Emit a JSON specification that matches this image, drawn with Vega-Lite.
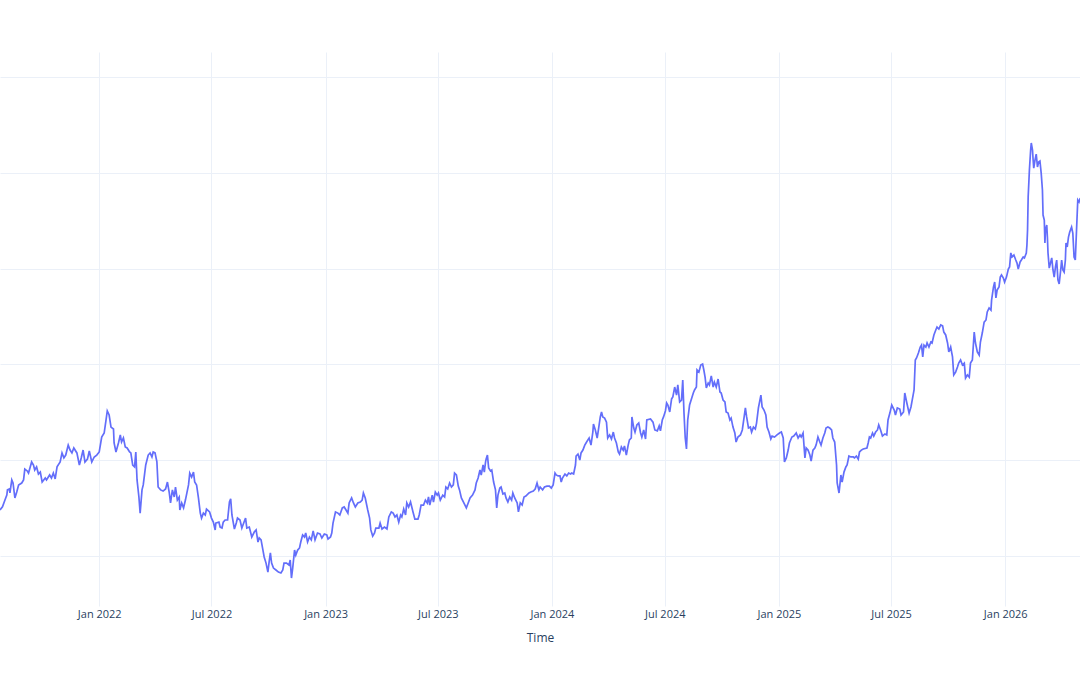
{
"$schema": "https://vega.github.io/schema/vega-lite/v6.json",
"width": 1080,
"height": 554,
"autosize": {"type": "none"},
"padding": {"left": 0, "top": 52, "right": 0, "bottom": 69},
"background": "white",
"config": {"view": {"stroke": null}, "font": "Open Sans"},
"data": {"values": [
{"date":"2021-07-25","value":124.0},{"date":"2021-07-29","value":125.7},{"date":"2021-08-02","value":129.2},{"date":"2021-08-05","value":131.8},{"date":"2021-08-06","value":134.5},{"date":"2021-08-09","value":135.0},{"date":"2021-08-10","value":132.9},{"date":"2021-08-13","value":139.7},{"date":"2021-08-15","value":138.1},{"date":"2021-08-18","value":130.3},{"date":"2021-08-21","value":133.4},{"date":"2021-08-24","value":137.1},{"date":"2021-08-29","value":138.1},{"date":"2021-09-01","value":139.7},{"date":"2021-09-03","value":145.4},{"date":"2021-09-07","value":144.4},{"date":"2021-09-09","value":143.3},{"date":"2021-09-14","value":149.1},{"date":"2021-09-17","value":147.5},{"date":"2021-09-19","value":144.9},{"date":"2021-09-22","value":146.5},{"date":"2021-09-25","value":142.8},{"date":"2021-09-28","value":143.8},{"date":"2021-10-01","value":138.6},{"date":"2021-10-06","value":140.7},{"date":"2021-10-08","value":139.7},{"date":"2021-10-13","value":142.3},{"date":"2021-10-16","value":140.7},{"date":"2021-10-19","value":143.3},{"date":"2021-10-22","value":140.2},{"date":"2021-10-25","value":146.5},{"date":"2021-10-30","value":149.1},{"date":"2021-11-02","value":153.8},{"date":"2021-11-05","value":151.2},{"date":"2021-11-08","value":152.7},{"date":"2021-11-12","value":157.9},{"date":"2021-11-15","value":155.3},{"date":"2021-11-18","value":153.8},{"date":"2021-11-21","value":156.4},{"date":"2021-11-26","value":153.8},{"date":"2021-11-30","value":147.5},{"date":"2021-12-03","value":151.2},{"date":"2021-12-06","value":155.3},{"date":"2021-12-09","value":149.1},{"date":"2021-12-13","value":150.6},{"date":"2021-12-16","value":154.8},{"date":"2021-12-20","value":149.1},{"date":"2021-12-24","value":151.7},{"date":"2021-12-28","value":152.7},
{"date":"2022-01-01","value":154.3},{"date":"2022-01-05","value":162.1},{"date":"2022-01-09","value":164.2},{"date":"2022-01-12","value":171.0},{"date":"2022-01-14","value":175.7},{"date":"2022-01-17","value":173.6},{"date":"2022-01-20","value":167.3},{"date":"2022-01-24","value":166.3},{"date":"2022-01-25","value":159.0},{"date":"2022-01-28","value":154.3},{"date":"2022-02-01","value":159.0},{"date":"2022-02-04","value":163.2},{"date":"2022-02-06","value":159.5},{"date":"2022-02-09","value":161.6},{"date":"2022-02-12","value":156.9},{"date":"2022-02-15","value":156.4},{"date":"2022-02-19","value":154.3},{"date":"2022-02-21","value":153.8},{"date":"2022-02-24","value":147.5},{"date":"2022-02-27","value":146.5},{"date":"2022-03-01","value":154.3},{"date":"2022-03-03","value":139.7},{"date":"2022-03-06","value":130.8},{"date":"2022-03-08","value":122.4},{"date":"2022-03-11","value":134.5},{"date":"2022-03-13","value":137.1},{"date":"2022-03-17","value":147.5},{"date":"2022-03-21","value":152.7},{"date":"2022-03-24","value":153.8},{"date":"2022-03-27","value":151.7},{"date":"2022-03-29","value":154.3},{"date":"2022-04-01","value":153.8},{"date":"2022-04-04","value":149.1},{"date":"2022-04-06","value":136.0},{"date":"2022-04-10","value":134.5},{"date":"2022-04-14","value":133.9},{"date":"2022-04-18","value":135.0},{"date":"2022-04-21","value":138.6},{"date":"2022-04-24","value":132.9},{"date":"2022-04-26","value":127.7},{"date":"2022-04-29","value":134.5},{"date":"2022-05-02","value":130.8},{"date":"2022-05-04","value":136.0},{"date":"2022-05-07","value":129.2},{"date":"2022-05-10","value":130.8},{"date":"2022-05-11","value":124.0},{"date":"2022-05-14","value":127.7},{"date":"2022-05-17","value":125.1},{"date":"2022-05-20","value":129.2},{"date":"2022-05-25","value":137.1},{"date":"2022-05-27","value":143.3},{"date":"2022-05-30","value":141.2},{"date":"2022-06-02","value":143.8},{"date":"2022-06-04","value":138.6},{"date":"2022-06-07","value":137.1},{"date":"2022-06-10","value":130.3},{"date":"2022-06-13","value":122.4},{"date":"2022-06-15","value":119.8},{"date":"2022-06-18","value":122.4},{"date":"2022-06-21","value":121.4},{"date":"2022-06-23","value":124.5},{"date":"2022-06-28","value":123.0},{"date":"2022-07-01","value":119.8},{"date":"2022-07-04","value":117.7},{"date":"2022-07-07","value":113.6},{"date":"2022-07-08","value":117.2},{"date":"2022-07-13","value":117.7},{"date":"2022-07-15","value":115.1},{"date":"2022-07-18","value":114.6},{"date":"2022-07-20","value":117.7},{"date":"2022-07-23","value":118.8},{"date":"2022-07-27","value":118.8},{"date":"2022-07-30","value":128.2},{"date":"2022-08-01","value":129.8},{"date":"2022-08-03","value":121.4},{"date":"2022-08-07","value":114.1},{"date":"2022-08-10","value":117.2},{"date":"2022-08-12","value":119.8},{"date":"2022-08-16","value":118.8},{"date":"2022-08-19","value":114.6},{"date":"2022-08-22","value":117.2},{"date":"2022-08-25","value":119.8},{"date":"2022-08-27","value":114.6},{"date":"2022-08-31","value":115.1},{"date":"2022-09-04","value":109.9},{"date":"2022-09-08","value":112.5},{"date":"2022-09-11","value":113.6},{"date":"2022-09-14","value":107.3},{"date":"2022-09-16","value":109.4},{"date":"2022-09-19","value":108.4},{"date":"2022-09-22","value":103.1},{"date":"2022-09-24","value":99.5},{"date":"2022-09-27","value":96.3},{"date":"2022-09-30","value":91.6},{"date":"2022-10-02","value":96.9},{"date":"2022-10-04","value":101.6},{"date":"2022-10-06","value":96.3},{"date":"2022-10-09","value":93.7},{"date":"2022-10-13","value":92.7},{"date":"2022-10-17","value":91.6},{"date":"2022-10-21","value":91.1},{"date":"2022-10-24","value":92.7},{"date":"2022-10-26","value":96.3},{"date":"2022-10-30","value":96.3},{"date":"2022-11-03","value":95.3},{"date":"2022-11-05","value":97.9},{"date":"2022-11-07","value":88.5},{"date":"2022-11-09","value":93.7},{"date":"2022-11-12","value":103.1},{"date":"2022-11-14","value":100.5},{"date":"2022-11-17","value":103.1},{"date":"2022-11-20","value":104.2},{"date":"2022-11-22","value":107.3},{"date":"2022-11-25","value":111.0},{"date":"2022-11-28","value":109.9},{"date":"2022-11-30","value":112.0},{"date":"2022-12-03","value":107.3},{"date":"2022-12-06","value":109.9},{"date":"2022-12-09","value":108.4},{"date":"2022-12-12","value":113.1},{"date":"2022-12-15","value":108.4},{"date":"2022-12-19","value":112.0},{"date":"2022-12-23","value":111.5},{"date":"2022-12-26","value":109.4},{"date":"2022-12-30","value":111.5},
{"date":"2023-01-03","value":111.0},{"date":"2023-01-05","value":108.9},{"date":"2023-01-09","value":109.9},{"date":"2023-01-11","value":112.0},{"date":"2023-01-13","value":117.2},{"date":"2023-01-17","value":123.0},{"date":"2023-01-21","value":122.4},{"date":"2023-01-24","value":121.4},{"date":"2023-01-28","value":125.1},{"date":"2023-01-31","value":125.6},{"date":"2023-02-03","value":124.0},{"date":"2023-02-06","value":122.4},{"date":"2023-02-08","value":127.7},{"date":"2023-02-12","value":130.3},{"date":"2023-02-15","value":127.7},{"date":"2023-02-18","value":125.6},{"date":"2023-02-22","value":127.7},{"date":"2023-02-26","value":128.2},{"date":"2023-03-01","value":129.2},{"date":"2023-03-03","value":132.9},{"date":"2023-03-06","value":130.3},{"date":"2023-03-10","value":124.0},{"date":"2023-03-13","value":119.8},{"date":"2023-03-15","value":113.6},{"date":"2023-03-18","value":110.4},{"date":"2023-03-21","value":112.0},{"date":"2023-03-23","value":114.6},{"date":"2023-03-28","value":114.6},{"date":"2023-03-30","value":117.2},{"date":"2023-04-02","value":114.1},{"date":"2023-04-06","value":115.1},{"date":"2023-04-10","value":114.1},{"date":"2023-04-13","value":120.4},{"date":"2023-04-17","value":123.0},{"date":"2023-04-20","value":122.4},{"date":"2023-04-23","value":120.4},{"date":"2023-04-26","value":121.4},{"date":"2023-04-29","value":117.7},{"date":"2023-05-02","value":121.4},{"date":"2023-05-04","value":120.4},{"date":"2023-05-07","value":124.5},{"date":"2023-05-10","value":121.4},{"date":"2023-05-12","value":127.7},{"date":"2023-05-15","value":125.6},{"date":"2023-05-18","value":128.2},{"date":"2023-05-22","value":123.0},{"date":"2023-05-25","value":119.3},{"date":"2023-05-30","value":119.3},{"date":"2023-06-01","value":121.4},{"date":"2023-06-04","value":126.6},{"date":"2023-06-08","value":126.6},{"date":"2023-06-11","value":129.2},{"date":"2023-06-14","value":127.7},{"date":"2023-06-16","value":130.8},{"date":"2023-06-18","value":126.6},{"date":"2023-06-22","value":131.8},{"date":"2023-06-24","value":128.2},{"date":"2023-06-27","value":133.4},{"date":"2023-06-30","value":131.8},{"date":"2023-07-02","value":132.9},{"date":"2023-07-05","value":129.2},{"date":"2023-07-09","value":131.8},{"date":"2023-07-12","value":130.8},{"date":"2023-07-14","value":136.0},{"date":"2023-07-17","value":135.0},{"date":"2023-07-20","value":138.1},{"date":"2023-07-23","value":136.0},{"date":"2023-07-26","value":137.1},{"date":"2023-07-28","value":143.3},{"date":"2023-07-31","value":142.3},{"date":"2023-08-03","value":136.5},{"date":"2023-08-05","value":134.5},{"date":"2023-08-08","value":130.3},{"date":"2023-08-12","value":127.7},{"date":"2023-08-16","value":125.1},{"date":"2023-08-19","value":127.7},{"date":"2023-08-22","value":130.3},{"date":"2023-08-26","value":131.8},{"date":"2023-08-30","value":134.5},{"date":"2023-09-01","value":138.1},{"date":"2023-09-04","value":140.7},{"date":"2023-09-07","value":144.9},{"date":"2023-09-09","value":142.3},{"date":"2023-09-12","value":147.5},{"date":"2023-09-14","value":143.8},{"date":"2023-09-16","value":149.1},{"date":"2023-09-17","value":150.6},{"date":"2023-09-19","value":152.7},{"date":"2023-09-21","value":145.9},{"date":"2023-09-24","value":144.4},{"date":"2023-09-26","value":144.9},{"date":"2023-09-29","value":138.6},{"date":"2023-10-02","value":134.5},{"date":"2023-10-04","value":125.1},{"date":"2023-10-06","value":131.8},{"date":"2023-10-09","value":135.5},{"date":"2023-10-11","value":136.0},{"date":"2023-10-14","value":132.4},{"date":"2023-10-17","value":132.9},{"date":"2023-10-19","value":130.3},{"date":"2023-10-22","value":128.2},{"date":"2023-10-25","value":130.8},{"date":"2023-10-28","value":129.2},{"date":"2023-10-30","value":132.9},{"date":"2023-11-02","value":130.3},{"date":"2023-11-06","value":127.7},{"date":"2023-11-08","value":123.0},{"date":"2023-11-11","value":127.7},{"date":"2023-11-14","value":126.6},{"date":"2023-11-17","value":130.8},{"date":"2023-11-20","value":131.3},{"date":"2023-11-25","value":132.9},{"date":"2023-11-28","value":133.4},{"date":"2023-12-02","value":133.9},{"date":"2023-12-05","value":135.0},{"date":"2023-12-08","value":138.1},{"date":"2023-12-11","value":134.5},{"date":"2023-12-13","value":136.0},{"date":"2023-12-17","value":134.5},{"date":"2023-12-20","value":136.0},{"date":"2023-12-24","value":136.5},{"date":"2023-12-28","value":136.5},{"date":"2023-12-31","value":135.5},
{"date":"2024-01-03","value":137.1},{"date":"2024-01-06","value":143.3},{"date":"2024-01-08","value":142.3},{"date":"2024-01-11","value":141.8},{"date":"2024-01-14","value":141.8},{"date":"2024-01-16","value":138.6},{"date":"2024-01-18","value":140.7},{"date":"2024-01-22","value":142.8},{"date":"2024-01-25","value":141.8},{"date":"2024-01-28","value":143.3},{"date":"2024-01-31","value":142.8},{"date":"2024-02-02","value":143.3},{"date":"2024-02-05","value":142.8},{"date":"2024-02-08","value":147.5},{"date":"2024-02-09","value":152.2},{"date":"2024-02-12","value":153.2},{"date":"2024-02-15","value":150.1},{"date":"2024-02-17","value":153.8},{"date":"2024-02-20","value":155.3},{"date":"2024-02-23","value":157.9},{"date":"2024-02-25","value":159.0},{"date":"2024-02-28","value":160.6},{"date":"2024-03-01","value":161.6},{"date":"2024-03-04","value":157.9},{"date":"2024-03-07","value":164.7},{"date":"2024-03-08","value":168.9},{"date":"2024-03-11","value":165.8},{"date":"2024-03-14","value":161.6},{"date":"2024-03-16","value":165.8},{"date":"2024-03-19","value":172.6},{"date":"2024-03-21","value":175.2},{"date":"2024-03-23","value":172.6},{"date":"2024-03-26","value":172.0},{"date":"2024-03-29","value":169.9},{"date":"2024-03-31","value":161.6},{"date":"2024-04-03","value":163.2},{"date":"2024-04-06","value":161.1},{"date":"2024-04-09","value":164.7},{"date":"2024-04-11","value":161.6},{"date":"2024-04-14","value":159.0},{"date":"2024-04-17","value":154.3},{"date":"2024-04-19","value":153.2},{"date":"2024-04-22","value":156.9},{"date":"2024-04-25","value":155.3},{"date":"2024-04-27","value":157.4},{"date":"2024-04-30","value":152.7},{"date":"2024-05-03","value":157.9},{"date":"2024-05-05","value":160.6},{"date":"2024-05-08","value":161.6},{"date":"2024-05-09","value":172.6},{"date":"2024-05-12","value":166.8},{"date":"2024-05-14","value":164.7},{"date":"2024-05-17","value":168.4},{"date":"2024-05-20","value":169.4},{"date":"2024-05-23","value":164.2},{"date":"2024-05-25","value":162.1},{"date":"2024-05-28","value":165.8},{"date":"2024-05-31","value":161.1},{"date":"2024-06-02","value":171.0},{"date":"2024-06-08","value":171.5},{"date":"2024-06-12","value":169.9},{"date":"2024-06-15","value":165.8},{"date":"2024-06-19","value":165.3},{"date":"2024-06-22","value":167.9},{"date":"2024-06-24","value":165.3},{"date":"2024-06-27","value":171.0},{"date":"2024-06-29","value":172.6},{"date":"2024-07-02","value":175.7},{"date":"2024-07-04","value":179.9},{"date":"2024-07-06","value":178.8},{"date":"2024-07-09","value":175.2},{"date":"2024-07-12","value":182.0},{"date":"2024-07-14","value":183.0},{"date":"2024-07-17","value":188.2},{"date":"2024-07-20","value":184.0},{"date":"2024-07-22","value":189.3},{"date":"2024-07-25","value":180.4},{"date":"2024-07-28","value":181.4},{"date":"2024-07-30","value":191.9},{"date":"2024-08-01","value":174.6},{"date":"2024-08-03","value":161.6},{"date":"2024-08-05","value":155.9},{"date":"2024-08-07","value":171.0},{"date":"2024-08-10","value":178.8},{"date":"2024-08-13","value":182.0},{"date":"2024-08-16","value":185.1},{"date":"2024-08-18","value":186.7},{"date":"2024-08-21","value":188.2},{"date":"2024-08-22","value":197.1},{"date":"2024-08-25","value":196.0},{"date":"2024-08-28","value":199.7},{"date":"2024-08-31","value":200.2},{"date":"2024-09-02","value":197.1},{"date":"2024-09-04","value":193.4},{"date":"2024-09-06","value":187.7},{"date":"2024-09-09","value":190.3},{"date":"2024-09-11","value":189.3},{"date":"2024-09-14","value":194.0},{"date":"2024-09-17","value":188.2},{"date":"2024-09-19","value":190.8},{"date":"2024-09-22","value":188.2},{"date":"2024-09-25","value":192.4},{"date":"2024-09-28","value":185.6},{"date":"2024-09-30","value":185.1},{"date":"2024-10-03","value":181.4},{"date":"2024-10-06","value":180.4},{"date":"2024-10-08","value":175.2},{"date":"2024-10-11","value":174.6},{"date":"2024-10-14","value":171.0},{"date":"2024-10-16","value":172.0},{"date":"2024-10-19","value":167.3},{"date":"2024-10-22","value":164.2},{"date":"2024-10-24","value":159.5},{"date":"2024-10-27","value":162.1},{"date":"2024-10-31","value":163.2},{"date":"2024-11-03","value":165.8},{"date":"2024-11-06","value":172.6},{"date":"2024-11-08","value":177.3},{"date":"2024-11-10","value":172.6},{"date":"2024-11-13","value":166.8},{"date":"2024-11-16","value":167.3},{"date":"2024-11-18","value":164.7},{"date":"2024-11-21","value":167.3},{"date":"2024-11-24","value":166.3},{"date":"2024-11-26","value":169.4},{"date":"2024-11-29","value":177.3},{"date":"2024-12-03","value":184.0},{"date":"2024-12-05","value":177.8},{"date":"2024-12-08","value":176.2},{"date":"2024-12-11","value":173.6},{"date":"2024-12-13","value":167.3},{"date":"2024-12-16","value":164.7},{"date":"2024-12-19","value":161.1},{"date":"2024-12-21","value":162.6},{"date":"2024-12-25","value":162.1},{"date":"2024-12-29","value":163.2},
{"date":"2025-01-02","value":164.2},{"date":"2025-01-05","value":164.7},{"date":"2025-01-08","value":161.6},{"date":"2025-01-10","value":149.1},{"date":"2025-01-13","value":151.2},{"date":"2025-01-16","value":155.3},{"date":"2025-01-18","value":159.0},{"date":"2025-01-22","value":162.1},{"date":"2025-01-25","value":162.6},{"date":"2025-01-29","value":164.2},{"date":"2025-02-01","value":161.6},{"date":"2025-02-04","value":163.2},{"date":"2025-02-06","value":162.1},{"date":"2025-02-09","value":164.2},{"date":"2025-02-12","value":151.2},{"date":"2025-02-14","value":156.4},{"date":"2025-02-17","value":155.3},{"date":"2025-02-20","value":152.7},{"date":"2025-02-22","value":149.6},{"date":"2025-02-25","value":155.3},{"date":"2025-02-28","value":156.4},{"date":"2025-03-02","value":157.9},{"date":"2025-03-05","value":162.1},{"date":"2025-03-08","value":159.5},{"date":"2025-03-10","value":157.9},{"date":"2025-03-13","value":161.6},{"date":"2025-03-16","value":164.2},{"date":"2025-03-18","value":166.8},{"date":"2025-03-21","value":167.3},{"date":"2025-03-24","value":166.8},{"date":"2025-03-27","value":165.8},{"date":"2025-03-29","value":161.6},{"date":"2025-04-01","value":159.5},{"date":"2025-04-04","value":147.5},{"date":"2025-04-05","value":138.1},{"date":"2025-04-08","value":132.9},{"date":"2025-04-11","value":142.3},{"date":"2025-04-13","value":138.6},{"date":"2025-04-16","value":143.8},{"date":"2025-04-19","value":146.5},{"date":"2025-04-21","value":147.5},{"date":"2025-04-24","value":152.2},{"date":"2025-04-27","value":151.7},{"date":"2025-05-01","value":151.7},{"date":"2025-05-03","value":151.2},{"date":"2025-05-06","value":152.2},{"date":"2025-05-09","value":150.6},{"date":"2025-05-11","value":154.3},{"date":"2025-05-14","value":155.3},{"date":"2025-05-17","value":155.9},{"date":"2025-05-23","value":156.4},{"date":"2025-05-25","value":159.0},{"date":"2025-05-27","value":162.1},{"date":"2025-05-29","value":161.6},{"date":"2025-06-01","value":164.2},{"date":"2025-06-03","value":162.6},{"date":"2025-06-06","value":164.7},{"date":"2025-06-09","value":165.8},{"date":"2025-06-11","value":168.4},{"date":"2025-06-14","value":165.8},{"date":"2025-06-17","value":162.6},{"date":"2025-06-21","value":163.7},{"date":"2025-06-24","value":163.2},{"date":"2025-06-26","value":171.0},{"date":"2025-06-29","value":174.6},{"date":"2025-07-02","value":178.8},{"date":"2025-07-06","value":176.2},{"date":"2025-07-08","value":173.6},{"date":"2025-07-11","value":177.3},{"date":"2025-07-15","value":176.7},{"date":"2025-07-17","value":173.6},{"date":"2025-07-21","value":175.2},{"date":"2025-07-23","value":185.1},{"date":"2025-07-26","value":180.4},{"date":"2025-07-30","value":174.6},{"date":"2025-08-02","value":177.8},{"date":"2025-08-04","value":181.4},{"date":"2025-08-07","value":186.7},{"date":"2025-08-09","value":202.3},{"date":"2025-08-11","value":203.4},{"date":"2025-08-14","value":206.0},{"date":"2025-08-17","value":209.1},{"date":"2025-08-19","value":210.1},{"date":"2025-08-21","value":203.9},{"date":"2025-08-23","value":210.1},{"date":"2025-08-26","value":209.1},{"date":"2025-08-28","value":211.2},{"date":"2025-08-31","value":209.1},{"date":"2025-09-03","value":211.7},{"date":"2025-09-05","value":211.2},{"date":"2025-09-08","value":215.4},{"date":"2025-09-11","value":218.0},{"date":"2025-09-13","value":219.5},{"date":"2025-09-16","value":218.5},{"date":"2025-09-19","value":220.6},{"date":"2025-09-22","value":220.1},{"date":"2025-09-24","value":216.9},{"date":"2025-09-27","value":215.4},{"date":"2025-09-30","value":211.2},{"date":"2025-10-02","value":206.5},{"date":"2025-10-05","value":209.1},{"date":"2025-10-08","value":203.9},{"date":"2025-10-10","value":194.5},{"date":"2025-10-13","value":196.0},{"date":"2025-10-16","value":198.7},{"date":"2025-10-18","value":200.7},{"date":"2025-10-21","value":202.3},{"date":"2025-10-24","value":199.7},{"date":"2025-10-27","value":200.7},{"date":"2025-10-29","value":192.9},{"date":"2025-11-01","value":194.5},{"date":"2025-11-04","value":193.4},{"date":"2025-11-06","value":200.7},{"date":"2025-11-09","value":202.3},{"date":"2025-11-12","value":216.9},{"date":"2025-11-14","value":211.2},{"date":"2025-11-17","value":206.5},{"date":"2025-11-20","value":204.9},{"date":"2025-11-22","value":211.7},{"date":"2025-11-25","value":216.4},{"date":"2025-11-28","value":222.1},{"date":"2025-12-01","value":223.2},{"date":"2025-12-03","value":227.4},{"date":"2025-12-06","value":229.5},{"date":"2025-12-09","value":228.4},{"date":"2025-12-10","value":233.6},{"date":"2025-12-13","value":240.4},{"date":"2025-12-15","value":243.0},{"date":"2025-12-17","value":234.7},{"date":"2025-12-19","value":238.9},{"date":"2025-12-22","value":240.4},{"date":"2025-12-24","value":245.6},{"date":"2025-12-26","value":246.7},{"date":"2025-12-29","value":245.1},{"date":"2025-12-31","value":243.0},
{"date":"2026-01-03","value":245.6},{"date":"2026-01-06","value":249.8},{"date":"2026-01-08","value":250.9},{"date":"2026-01-10","value":258.2},{"date":"2026-01-12","value":256.1},{"date":"2026-01-15","value":257.1},{"date":"2026-01-18","value":254.5},{"date":"2026-01-20","value":252.9},{"date":"2026-01-22","value":249.8},{"date":"2026-01-25","value":253.5},{"date":"2026-01-27","value":254.5},{"date":"2026-01-30","value":256.1},{"date":"2026-02-01","value":255.6},{"date":"2026-02-04","value":258.2},{"date":"2026-02-05","value":262.3},{"date":"2026-02-06","value":270.2},{"date":"2026-02-07","value":287.4},{"date":"2026-02-09","value":301.5},{"date":"2026-02-11","value":311.9},{"date":"2026-02-12","value":315.6},{"date":"2026-02-14","value":311.9},{"date":"2026-02-15","value":306.7},{"date":"2026-02-16","value":302.5},{"date":"2026-02-18","value":306.7},{"date":"2026-02-20","value":309.8},{"date":"2026-02-22","value":303.1},{"date":"2026-02-24","value":305.7},{"date":"2026-02-26","value":306.2},{"date":"2026-02-28","value":299.9},{"date":"2026-03-02","value":291.1},{"date":"2026-03-03","value":278.0},{"date":"2026-03-05","value":275.4},{"date":"2026-03-06","value":263.4},{"date":"2026-03-07","value":270.2},{"date":"2026-03-09","value":272.8},{"date":"2026-03-10","value":266.5},{"date":"2026-03-11","value":258.2},{"date":"2026-03-13","value":250.3},{"date":"2026-03-15","value":252.9},{"date":"2026-03-17","value":255.6},{"date":"2026-03-19","value":249.3},{"date":"2026-03-21","value":245.6},{"date":"2026-03-23","value":250.9},{"date":"2026-03-25","value":254.5},{"date":"2026-03-27","value":244.1},{"date":"2026-03-29","value":242.0},{"date":"2026-04-01","value":250.9},{"date":"2026-04-02","value":254.5},{"date":"2026-04-04","value":249.3},{"date":"2026-04-06","value":248.2},{"date":"2026-04-08","value":254.5},{"date":"2026-04-09","value":263.4},{"date":"2026-04-11","value":261.3},{"date":"2026-04-13","value":266.5},{"date":"2026-04-15","value":269.1},{"date":"2026-04-18","value":271.7},{"date":"2026-04-20","value":268.6},{"date":"2026-04-22","value":256.1},{"date":"2026-04-24","value":254.5},{"date":"2026-04-26","value":270.2},{"date":"2026-04-28","value":285.8},{"date":"2026-04-30","value":284.8},{"date":"2026-05-02","value":286.9}
]},
"mark": {"type": "line", "color": "#636efa", "strokeWidth": 1.7, "clip": true},
"encoding": {
  "x": {
    "field": "date", "type": "temporal",
    "scale": {"domain": [{"year": 2021, "month": 7, "date": 25, "utc": true}, {"year": 2026, "month": 5, "date": 1, "hours": 14, "utc": true}]},
    "axis": {
      "title": "Time",
      "format": "%b %Y",
      "values": [
        {"year": 2022, "month": 1, "date": 1, "utc": true},
        {"year": 2022, "month": 7, "date": 1, "utc": true},
        {"year": 2023, "month": 1, "date": 1, "utc": true},
        {"year": 2023, "month": 7, "date": 1, "utc": true},
        {"year": 2024, "month": 1, "date": 1, "utc": true},
        {"year": 2024, "month": 7, "date": 1, "utc": true},
        {"year": 2025, "month": 1, "date": 1, "utc": true},
        {"year": 2025, "month": 7, "date": 1, "utc": true},
        {"year": 2026, "month": 1, "date": 1, "utc": true}
      ],
      "grid": true, "gridColor": "#EBF0F8", "gridWidth": 1,
      "domain": false, "ticks": false, "tickSize": 0,
      "labelPadding": 2, "labelFont": "Open Sans", "labelFontSize": 11, "labelColor": "#2a3f5f",
      "labelFlush": false, "labelOverlap": false,
      "titleFont": "Open Sans", "titleFontSize": 12, "titleFontWeight": "normal", "titleColor": "#2a3f5f",
      "titleY": 35, "titleBaseline": "alphabetic"
    }
  },
  "y": {
    "field": "value", "type": "quantitative",
    "scale": {"domain": [73.9, 363.1], "nice": false, "zero": false},
    "axis": {
      "title": null, "values": [100, 150, 200, 250, 300, 350],
      "grid": true, "gridColor": "#EBF0F8", "gridWidth": 1,
      "labels": false, "ticks": false, "domain": false
    }
  }
}
}
